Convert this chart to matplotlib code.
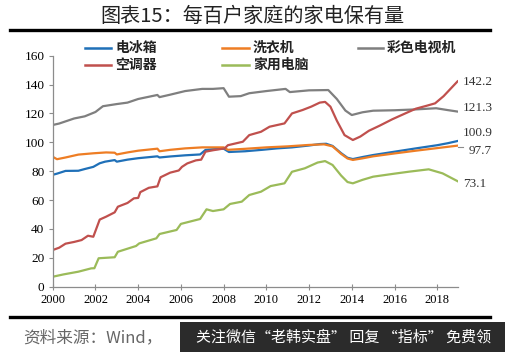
import matplotlib.pyplot as plt
from matplotlib.lines import Line2D
from matplotlib.patches import Rectangle

CJK = ["Noto Sans CJK SC", "DejaVu Sans"]
SERIF = "Liberation Serif"

# ---------------------------------------------------------------------------
# Data (holdings per 100 households)
# ---------------------------------------------------------------------------
fridge_x = [2000.0, 2000.2, 2000.6, 2001.2, 2001.5, 2001.9, 2002.2, 2002.45, 2002.9,
            2003.0, 2003.5, 2004.0, 2004.9, 2005.0, 2005.5, 2006.2, 2006.9, 2007.15,
            2007.5, 2008.0, 2008.25, 2009.0, 2009.8, 2010.5, 2011.2, 2012.0, 2012.5,
            2012.8, 2013.1, 2013.5, 2013.8, 2014.05, 2014.5, 2015.0, 2016.0, 2017.0,
            2018.0, 2018.5, 2018.95]
fridge_y = [77.5, 78.3, 80.2, 80.3, 81.5, 83.0, 85.5, 86.6, 87.7,
            86.6, 88.0, 89.0, 90.3, 89.5, 90.2, 91.0, 91.6, 94.7,
            95.2, 95.6, 93.3, 93.8, 94.8, 95.8, 96.5, 97.8, 98.8,
            99.0, 97.5, 92.5, 89.3, 88.4, 89.8, 91.2, 93.5, 95.8,
            98.0, 99.4, 100.9]

washer_x = [2000.0, 2000.2, 2000.6, 2001.2, 2001.9, 2002.5, 2002.9, 2003.0, 2003.5,
            2004.0, 2004.9, 2005.0, 2005.5, 2006.2, 2007.0, 2008.0, 2008.2, 2009.0,
            2010.0, 2011.0, 2012.0, 2012.7, 2013.1, 2013.5, 2013.8, 2014.05, 2014.5,
            2015.0, 2016.0, 2017.0, 2018.0, 2018.95]
washer_y = [90.0, 88.3, 89.5, 91.5, 92.4, 93.0, 92.8, 91.6, 93.0,
            94.2, 95.6, 93.8, 94.8, 95.8, 96.5, 96.5, 94.8, 95.5,
            96.5, 97.2, 98.2, 98.6, 97.2, 92.0, 88.8, 87.8, 88.9,
            90.3, 92.3, 94.2, 96.0, 97.7]

tv_x = [2000.0, 2000.3, 2001.0, 2001.5, 2002.0, 2002.35, 2003.0, 2003.5, 2004.0,
        2004.9, 2005.0, 2005.5, 2006.2, 2007.0, 2007.5, 2008.0, 2008.25, 2008.8,
        2009.2, 2010.0, 2010.9, 2011.1, 2012.0, 2012.9, 2013.3, 2013.7, 2014.0,
        2014.5, 2015.0, 2016.0, 2017.0, 2017.95, 2018.5, 2018.95]
tv_y = [112.0, 113.0, 116.5, 118.0, 121.0, 125.0, 126.5, 127.5, 130.0,
        132.8, 131.3, 133.0, 135.5, 137.0, 137.0, 137.5, 131.6, 132.0,
        134.0, 135.5, 137.0, 134.8, 136.0, 136.2, 130.0, 122.0, 118.9,
        120.8, 121.9, 122.2, 122.8, 123.6, 122.3, 121.3]

ac_x = [2000.0, 2000.3, 2000.6, 2001.0, 2001.35, 2001.65, 2001.9, 2002.2, 2002.5,
        2002.9, 2003.05, 2003.5, 2003.8, 2004.0, 2004.1, 2004.5, 2004.9, 2005.05,
        2005.5, 2005.9, 2006.05, 2006.3, 2006.7, 2006.95, 2007.15, 2007.5, 2008.05,
        2008.2, 2008.9, 2009.2, 2009.75, 2010.15, 2010.85, 2011.2, 2011.7, 2012.1,
        2012.5, 2012.75, 2013.0, 2013.3, 2013.66, 2014.05, 2014.4, 2014.8, 2015.3,
        2015.9, 2016.5, 2017.0, 2017.5, 2017.9, 2018.3, 2018.65, 2018.95]
ac_y = [25.4, 27.0, 29.8, 31.0, 32.3, 35.3, 34.6, 46.5, 48.5,
        51.5, 55.4, 58.0, 61.2, 61.5, 65.5, 68.5, 69.5, 75.8,
        79.0, 80.5, 83.0, 85.4, 87.5, 88.0, 93.5, 94.5, 95.8,
        98.0, 100.4, 105.0, 107.3, 110.8, 113.1, 120.0, 122.4, 124.7,
        127.5, 128.0, 124.7, 115.0, 105.0, 101.6, 104.0, 108.0, 111.5,
        116.0, 120.0, 123.3, 125.3, 127.0, 132.0, 137.5, 142.2]

pc_x = [2000.0, 2000.5, 2001.2, 2001.8, 2001.95, 2002.15, 2002.9, 2003.05, 2003.9,
        2004.05, 2004.85, 2005.0, 2005.8, 2006.0, 2006.9, 2007.2, 2007.5, 2008.0,
        2008.3, 2008.85, 2009.2, 2009.75, 2010.2, 2010.85, 2011.2, 2011.8, 2012.4,
        2012.75, 2013.1, 2013.5, 2013.8, 2014.05, 2014.5, 2015.0, 2016.0, 2016.7,
        2017.6, 2018.25, 2018.95]
pc_y = [6.9, 8.5, 10.4, 12.7, 12.8, 19.7, 20.4, 24.2, 28.2,
        30.0, 33.5, 36.5, 39.3, 43.5, 46.9, 53.6, 52.4, 53.6,
        57.3, 58.9, 63.5, 65.8, 69.7, 71.6, 79.6, 82.0, 86.0,
        87.0, 84.3, 77.0, 72.5, 71.6, 74.0, 76.2, 78.3, 79.7,
        81.3, 78.5, 73.1]

series_names = ["电冰箱", "洗衣机", "彩色电视机", "空调器", "家用电脑"]
series_colors = ["#1F70B8", "#EE7D24", "#7F7F7F", "#C0504D", "#9BBB59"]

end_labels = ["142.2", "121.3", "100.9", "97.7", "73.1"]
end_label_y = [142.0, 124.0, 106.5, 94.2, 71.1]

year_ticks = list(range(2000, 2019, 2))
value_ticks = list(range(0, 161, 20))

W, H = 505, 352


def fx(px):
    return px / W


def fy(py):
    return 1 - py / H


def main() -> None:
    fig = plt.figure(figsize=(5.05, 3.52), dpi=100)
    fig.patch.set_facecolor("white")

    # ── Title + rules ───────────────────────────────────────────────────────
    fig.text(0.5, 0.952, "图表15：每百户家庭的家电保有量", ha="center", va="center",
             fontsize=14.5, family=CJK, color="#222222")
    fig.add_artist(Line2D([0.02, 0.97], [0.915, 0.915], color="black", lw=2.4))
    fig.add_artist(Line2D([0.02, 0.97], [0.10, 0.10], color="black", lw=2.4))

    # ── Plot ────────────────────────────────────────────────────────────────
    ax = fig.add_axes([0.1044, 0.1855, 0.8016, 0.6563])
    data = [(fridge_x, fridge_y), (washer_x, washer_y), (tv_x, tv_y),
            (ac_x, ac_y), (pc_x, pc_y)]
    for (xs, ys), name, col in zip(data, series_names, series_colors):
        ax.plot(xs, ys, color=col, lw=1.6, label=name, solid_joinstyle="round")

    ax.set_xlim(2000, 2018.95)
    ax.set_ylim(0, 160)
    ax.set_xticks(year_ticks)
    ax.set_yticks(value_ticks)
    for s in ("top", "right"):
        ax.spines[s].set_visible(False)
    for s in ("left", "bottom"):
        ax.spines[s].set_color("#8C8C8C")
        ax.spines[s].set_linewidth(0.9)
    ax.tick_params(axis="x", direction="inout", length=5, color="#8C8C8C",
                   labelsize=9, pad=3)
    ax.tick_params(axis="y", direction="out", length=3, color="#8C8C8C",
                   labelsize=9.5, pad=3)
    for lab in ax.get_xticklabels() + ax.get_yticklabels():
        lab.set_fontfamily(SERIF)

    # end-of-series value labels
    for txt, yv in zip(end_labels, end_label_y):
        xv = 2019.45 if txt == "97.7" else 2019.2
        ax.text(xv, yv, txt, ha="left", va="center", fontsize=9.5,
                family=SERIF, color="#333333", clip_on=False)
    ax.add_line(Line2D([2018.97, 2019.2], [96.6, 96.6], color="#8C8C8C",
                       lw=0.8, clip_on=False))

    # ── Legend (3 columns x 2 rows, placed as in the reference) ─────────────
    legend_cols = [(85, 111), (222, 249), (358, 383)]
    legend_rows = [48, 65]
    slots = [(0, 0), (1, 0), (2, 0), (0, 1), (1, 1)]
    for name, col, (ci, ri) in zip(series_names, series_colors, slots):
        x0, x1 = legend_cols[ci]
        yy = fy(legend_rows[ri])
        fig.add_artist(Line2D([fx(x0), fx(x1)], [yy, yy], color=col, lw=1.8))
        fig.text(fx(x1 + 4), yy, name, ha="left", va="center", fontsize=10,
                 weight="bold", family=CJK, color="#222222")

    # ── Footer ──────────────────────────────────────────────────────────────
    fig.text(0.045, 0.04, "资料来源：Wind，", ha="left", va="center",
             fontsize=12, family=CJK, style="italic", color="#666666")
    fig.add_artist(Rectangle((0.356, 0.0), 0.644, 0.085,
                             transform=fig.transFigure, facecolor="#2B2B2B",
                             edgecolor="none"))
    fig.text(0.68, 0.042, "关注微信“老韩实盘” 回复 “指标” 免费领", ha="center",
             va="center", fontsize=10.8, family=CJK, color="white")

    fig.savefig("out.png", dpi=100, facecolor="white")
    plt.close(fig)


if __name__ == "__main__":
    main()
